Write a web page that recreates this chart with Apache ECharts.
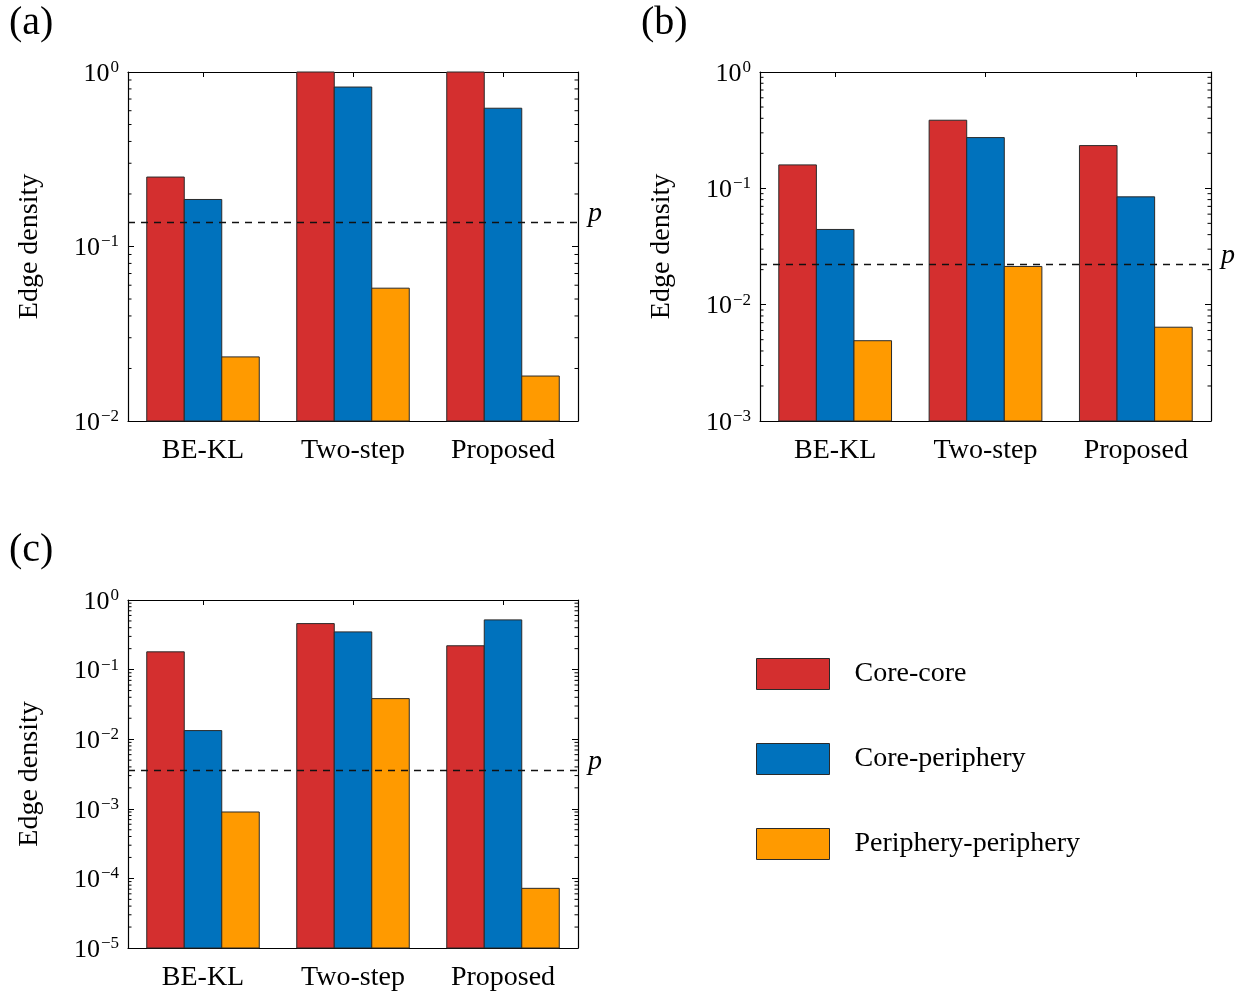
<!DOCTYPE html>
<html>
<head>
<meta charset="utf-8">
<script src="https://cdn.jsdelivr.net/npm/echarts@6/dist/echarts.min.js"></script>
<style>
  html, body { margin: 0; padding: 0; background: #fff; }
  #chart { width: 1250px; height: 998px; }
</style>
</head>
<body>
<div id="chart"></div>
<script>
// ---------- data ----------
const categories = ['BE-KL', 'Two-step', 'Proposed'];
const seriesNames = ['Core-core', 'Core-periphery', 'Periphery-periphery'];

const aCoreCore = [0.25, 1.0, 1.0];
const aCorePeriphery = [0.186, 0.82, 0.62];
const aPeripheryPeriphery = [0.0233, 0.0577, 0.0181];
const aP = 0.138;

const bCoreCore = [0.159, 0.385, 0.233];
const bCorePeriphery = [0.0443, 0.273, 0.0845];
const bPeripheryPeriphery = [0.0049, 0.0213, 0.0064];
const bP = 0.0224;

const cCoreCore = [0.18, 0.458, 0.22];
const cCorePeriphery = [0.0133, 0.348, 0.518];
const cPeripheryPeriphery = [0.0009, 0.0383, 0.000072];
const cP = 0.00356;

const yMinA = 1e-2, yMinB = 1e-3, yMinC = 1e-5, yMax = 1;
const minorMultipliers = [2, 3, 4, 5, 6, 7, 8, 9];

// ---------- style ----------
const colors = ['#D42F2F', '#0072BD', '#FF9A00'];
const FONT = 'Liberation Serif';

const panels = [
  { label: '(a)', values: [aCoreCore, aCorePeriphery, aPeripheryPeriphery], p: aP, min: yMinA,
    grid: { left: 128, top: 72, width: 450, height: 349 }, labelPos: [9, 3] },
  { label: '(b)', values: [bCoreCore, bCorePeriphery, bPeripheryPeriphery], p: bP, min: yMinB,
    grid: { left: 760, top: 72, width: 451, height: 349 }, labelPos: [641, 3] },
  { label: '(c)', values: [cCoreCore, cCorePeriphery, cPeripheryPeriphery], p: cP, min: yMinC,
    grid: { left: 128, top: 600, width: 450, height: 348 }, labelPos: [9, 530] }
];

function expLabel(v) {
  const e = Math.round(Math.log10(v));
  const s = e < 0 ? '\u2212' + (-e) : String(e);
  return '{b|10}{s|' + s + '}';
}

const grids = [], xAxes = [], yAxes = [], series = [], graphics = [];

panels.forEach((pn, g) => {
  grids.push(Object.assign({ containLabel: false }, pn.grid));
  xAxes.push({
    type: 'category', gridIndex: g, position: 'bottom', data: categories,
    axisLine: { show: true, onZero: false, lineStyle: { color: '#000', width: 1.2 } },
    axisTick: { show: true, inside: true, alignWithLabel: true, length: 5, lineStyle: { color: '#000' } },
    axisLabel: { show: true, margin: 16, color: '#000', fontFamily: FONT, fontSize: 28 },
    splitLine: { show: false }
  });
  xAxes.push({
    type: 'category', gridIndex: g, position: 'top', data: categories,
    axisLine: { show: true, onZero: false, lineStyle: { color: '#000', width: 1.2 } },
    axisTick: { show: true, inside: true, alignWithLabel: true, length: 5, lineStyle: { color: '#000' } },
    axisLabel: { show: false }, splitLine: { show: false }
  });
  const richLabel = {
    b: { fontFamily: FONT, fontSize: 26, color: '#000', lineHeight: 30, verticalAlign: 'bottom', padding: [6, 0, 0, 0] },
    s: { fontFamily: FONT, fontSize: 17, color: '#000', lineHeight: 17, verticalAlign: 'top', padding: [2, 0, 0, 1] }
  };
  yAxes.push({
    type: 'log', logBase: 10, gridIndex: g, position: 'left', min: pn.min, max: yMax,
    name: 'Edge density', nameLocation: 'middle', nameGap: 84,
    nameTextStyle: { fontFamily: FONT, fontSize: 28, color: '#000' },
    axisLine: { show: true, lineStyle: { color: '#000', width: 1.2 } },
    axisTick: { show: true, inside: true, length: 6, lineStyle: { color: '#000' } },
    axisLabel: { show: true, margin: 9, formatter: expLabel, rich: richLabel },
    splitLine: { show: false }
  });
  yAxes.push({
    type: 'log', logBase: 10, gridIndex: g, position: 'right', min: pn.min, max: yMax,
    axisLine: { show: true, lineStyle: { color: '#000', width: 1.2 } },
    axisTick: { show: true, inside: true, length: 6, lineStyle: { color: '#000' } },
    axisLabel: { show: false }, splitLine: { show: false }
  });

  // bars
  pn.values.forEach((vals, si) => {
    series.push({
      type: 'custom', name: seriesNames[si], coordinateSystem: 'cartesian2d',
      xAxisIndex: 2 * g, yAxisIndex: 2 * g,
      itemStyle: { color: colors[si] },
      data: vals.map((v, i) => [i, v]),
      encode: { x: 0, y: 1 },
      z: 2,
      renderItem: function (params, api) {
        const cs = params.coordSys;
        const top = api.coord([api.value(0), api.value(1)]);
        const band = api.size([1, 0])[0];
        const bw = band * 0.25;
        const x0 = top[0] - 1.5 * bw + si * bw;
        const baseY = cs.y + cs.height;
        return {
          type: 'rect',
          shape: { x: x0, y: top[1], width: bw, height: baseY - top[1] },
          style: { fill: colors[si], stroke: '#2a2a2a', lineWidth: 1 }
        };
      }
    });
  });

  // log minor ticks on left and right frame
  const decades = [];
  for (let e = Math.round(Math.log10(pn.min)); e < 0; e++) decades.push(e);
  const minorVals = [];
  decades.forEach(e => minorMultipliers.forEach(m => minorVals.push([0, m * Math.pow(10, e)])));
  series.push({
    type: 'custom', name: 'minorTicks' + g, coordinateSystem: 'cartesian2d',
    xAxisIndex: 2 * g, yAxisIndex: 2 * g, silent: true, z: 3,
    data: minorVals, encode: { x: 0, y: 1 },
    renderItem: function (params, api) {
      const cs = params.coordSys;
      const y = api.coord([0, api.value(1)])[1];
      return {
        type: 'group', children: [
          { type: 'line', shape: { x1: cs.x, y1: y, x2: cs.x + 3.5, y2: y }, style: { stroke: '#000', lineWidth: 1 } },
          { type: 'line', shape: { x1: cs.x + cs.width - 3.5, y1: y, x2: cs.x + cs.width, y2: y }, style: { stroke: '#000', lineWidth: 1 } }
        ]
      };
    }
  });

  // dashed p line
  series.push({
    type: 'line', name: 'p' + g, xAxisIndex: 2 * g, yAxisIndex: 2 * g, data: [],
    markLine: {
      silent: true, symbol: ['none', 'none'], animation: false, precision: 8,
      lineStyle: { color: '#111', width: 1.3, type: [7, 6] },
      label: { show: true, position: 'end', distance: 10, formatter: 'p',
        fontFamily: FONT, fontStyle: 'italic', fontSize: 28, color: '#000',
        verticalAlign: 'bottom', lineHeight: 17 },
      data: [{ yAxis: pn.p }]
    }
  });

  graphics.push({
    type: 'text', left: pn.labelPos[0], top: pn.labelPos[1],
    style: { text: pn.label, font: '40px "' + FONT + '"', fill: '#000' }
  });
});

const chart = echarts.init(document.getElementById('chart'), null, { renderer: 'canvas' });
chart.setOption({
  animation: false,
  backgroundColor: '#fff',
  grid: grids,
  xAxis: xAxes,
  yAxis: yAxes,
  series: series,
  graphic: graphics,
  legend: {
    data: seriesNames, orient: 'vertical', left: 751, top: 653,
    itemWidth: 73, itemHeight: 31, itemGap: 53, icon: 'rect',
    itemStyle: { borderColor: '#2a2a2a', borderWidth: 1 },
    textStyle: { fontFamily: FONT, fontSize: 28, color: '#000', lineHeight: 31, padding: [0, 0, 0, 20] },
    selectedMode: false
  }
});
</script>
</body>
</html>
